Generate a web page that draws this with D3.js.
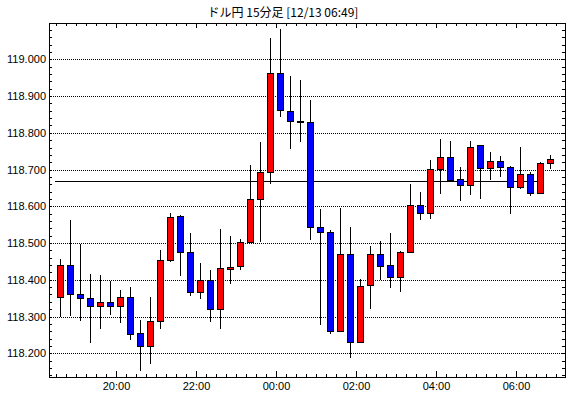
<!DOCTYPE html>
<html>
<head>
<meta charset="utf-8">
<script src="https://cdn.jsdelivr.net/npm/d3@7"></script>
<style>
  body { margin: 0; background: #fff; }
  text { font-family: "Liberation Sans", Arial, sans-serif; font-size: 11px; fill: #000; }
  .title { font-family: "Noto Sans CJK JP", sans-serif; font-size: 12px; }
  .axis line { stroke: #000; shape-rendering: crispEdges; }
  .axis text { font-family: "Liberation Sans", Arial, sans-serif; font-size: 11px; }
</style>
</head>
<body>
<script>
// 15-minute USD/JPY candles, 12/12 18:30 -> 12/13 06:45
var times = [
  "12/12 18:30", "12/12 18:45", "12/12 19:00", "12/12 19:15", "12/12 19:30", "12/12 19:45",
  "12/12 20:00", "12/12 20:15", "12/12 20:30", "12/12 20:45", "12/12 21:00", "12/12 21:15",
  "12/12 21:30", "12/12 21:45", "12/12 22:00", "12/12 22:15", "12/12 22:30", "12/12 22:45",
  "12/12 23:00", "12/12 23:15", "12/12 23:30", "12/12 23:45", "12/13 00:00", "12/13 00:15",
  "12/13 00:30", "12/13 00:45", "12/13 01:00", "12/13 01:15", "12/13 01:30", "12/13 01:45",
  "12/13 02:00", "12/13 02:15", "12/13 02:30", "12/13 02:45", "12/13 03:00", "12/13 03:15",
  "12/13 03:30", "12/13 03:45", "12/13 04:00", "12/13 04:15", "12/13 04:30", "12/13 04:45",
  "12/13 05:00", "12/13 05:15", "12/13 05:30", "12/13 05:45", "12/13 06:00", "12/13 06:15",
  "12/13 06:30", "12/13 06:45"
];

var opens = [
  118.352, 118.439, 118.361, 118.350, 118.330, 118.339, 118.330, 118.352, 118.254, 118.219,
  118.287, 118.453, 118.573, 118.475, 118.366, 118.399, 118.320, 118.429, 118.437, 118.502,
  118.619, 118.693, 118.962, 118.859, 118.831, 118.829, 118.543, 118.529, 118.260, 118.469,
  118.230, 118.385, 118.469, 118.439, 118.407, 118.475, 118.603, 118.581, 118.701, 118.733,
  118.673, 118.657, 118.766, 118.703, 118.722, 118.706, 118.652, 118.687, 118.635, 118.717
];

var highs = [
  118.457, 118.563, 118.497, 118.416, 118.413, 118.398, 118.372, 118.380, 118.291, 118.353,
  118.481, 118.582, 118.576, 118.527, 118.446, 118.427, 118.538, 118.518, 118.510, 118.712,
  118.774, 119.057, 119.082, 118.954, 118.944, 118.889, 118.593, 118.535, 118.595, 118.544,
  118.401, 118.492, 118.506, 118.527, 118.478, 118.660, 118.638, 118.725, 118.783, 118.777,
  118.707, 118.777, 118.766, 118.747, 118.737, 118.709, 118.761, 118.693, 118.720, 118.739
];

var lows = [
  118.298, 118.301, 118.289, 118.229, 118.267, 118.304, 118.283, 118.237, 118.153, 118.172,
  118.265, 118.449, 118.411, 118.357, 118.349, 118.286, 118.265, 118.389, 118.427, 118.502,
  118.502, 118.660, 118.844, 118.757, 118.776, 118.509, 118.276, 118.252, 118.260, 118.186,
  118.230, 118.320, 118.399, 118.379, 118.368, 118.475, 118.564, 118.566, 118.633, 118.672,
  118.615, 118.632, 118.621, 118.671, 118.681, 118.578, 118.646, 118.629, 118.635, 118.701
];

var closes = [
  118.439, 118.361, 118.350, 118.330, 118.339, 118.330, 118.352, 118.253, 118.219, 118.287,
  118.453, 118.570, 118.475, 118.366, 118.399, 118.320, 118.431, 118.434, 118.502, 118.619,
  118.693, 118.962, 118.861, 118.831, 118.830, 118.543, 118.529, 118.260, 118.469, 118.230,
  118.384, 118.469, 118.438, 118.407, 118.475, 118.603, 118.581, 118.701, 118.733, 118.672,
  118.657, 118.761, 118.703, 118.722, 118.706, 118.652, 118.687, 118.635, 118.717, 118.728
];

var yLabels = [118.2, 118.3, 118.4, 118.5, 118.6, 118.7, 118.8, 118.9, 119.0];
var xLabels = ["12/12 20:00", "12/12 22:00", "12/13 00:00", "12/13 02:00", "12/13 04:00", "12/13 06:00"];
var refPrice = 118.670;
var title = "ドル円 15分足 [12/13 06:49]";

(function() {

var parse = d3.timeParse("%m/%d %H:%M");

var data = times.map(function(t, i) {
  return { t: parse(t), o: opens[i], h: highs[i], l: lows[i], c: closes[i] };
});

var plotLeft = 49, plotRight = 565, plotTop = 23, plotBottom = 377;

var svg = d3.select("body").append("svg")
    .attr("width", 570)
    .attr("height", 398);

var t0 = data[0].t, t1 = data[data.length - 1].t;

var x = d3.scaleTime()
    .domain([d3.timeSecond.offset(t0, -630), d3.timeSecond.offset(t1, 1710)])
    .range([plotLeft, plotRight]);

var y = d3.scaleLinear()
    .domain([118.1355, 119.0988])
    .range([plotBottom, plotTop]);

// Grid lines (dotted)
svg.append("g").selectAll("line")
    .data(yLabels)
  .enter().append("line")
    .attr("x1", plotLeft)
    .attr("x2", plotRight)
    .attr("y1", function(d) { return Math.round(y(d)) + 0.5; })
    .attr("y2", function(d) { return Math.round(y(d)) + 0.5; })
    .attr("stroke", "#000")
    .attr("stroke-dasharray", "1,1")
    .attr("shape-rendering", "crispEdges");

// Reference price line
svg.append("line")
    .attr("x1", x(t0) - 1)
    .attr("x2", x(t1) - 2)
    .attr("y1", Math.round(y(refPrice)) + 0.5)
    .attr("y2", Math.round(y(refPrice)) + 0.5)
    .attr("stroke", "#000")
    .attr("shape-rendering", "crispEdges");

// Axes: ticks point inward
var minorX = d3.timeMinute.every(15).range(x.domain()[0], x.domain()[1]);
var majorX = xLabels.map(parse);
var minorY = d3.range(118.14, 119.09, 0.02);

svg.append("g").attr("class", "axis")
    .attr("transform", "translate(0," + plotBottom + ")")
    .call(d3.axisBottom(x).tickValues(minorX).tickSize(-3).tickFormat(""));

svg.append("g").attr("class", "axis")
    .attr("transform", "translate(0," + plotBottom + ")")
    .call(d3.axisBottom(x).tickValues(majorX).tickSize(-6).tickPadding(5)
      .tickFormat(d3.timeFormat("%H:%M")));

svg.append("g").attr("class", "axis")
    .attr("transform", "translate(0," + plotTop + ")")
    .call(d3.axisTop(x).tickValues(minorX).tickSize(-3).tickFormat(""));

svg.append("g").attr("class", "axis")
    .attr("transform", "translate(0," + plotTop + ")")
    .call(d3.axisTop(x).tickValues(majorX).tickSize(-5).tickFormat(""));

svg.append("g").attr("class", "axis")
    .attr("transform", "translate(" + plotLeft + ",0)")
    .call(d3.axisLeft(y).tickValues(minorY).tickSize(-3).tickFormat(""));

svg.append("g").attr("class", "axis")
    .attr("transform", "translate(" + plotLeft + ",0)")
    .call(d3.axisLeft(y).tickValues(yLabels).tickSize(-3).tickPadding(3)
      .tickFormat(d3.format(".3f")));

svg.append("g").attr("class", "axis")
    .attr("transform", "translate(" + plotRight + ",0)")
    .call(d3.axisRight(y).tickValues(minorY).tickSize(-3).tickFormat(""));

svg.selectAll(".axis .domain").remove();

// Candles
var candle = svg.append("g").selectAll("g")
    .data(data)
  .enter().append("g")
    .attr("transform", function(d) { return "translate(" + Math.round(x(d.t) + 4.3) + ",0)"; });

candle.append("line")
    .attr("x1", 0.5)
    .attr("x2", 0.5)
    .attr("y1", function(d) { return y(d.h); })
    .attr("y2", function(d) { return y(d.l); })
    .attr("stroke", "#000")
    .attr("shape-rendering", "crispEdges");

candle.append("rect")
    .attr("x", -2.5)
    .attr("width", 6)
    .attr("y", function(d) { return Math.round(y(Math.max(d.o, d.c))) + 0.5; })
    .attr("height", function(d) {
      return Math.max(1, Math.round(y(Math.min(d.o, d.c))) - Math.round(y(Math.max(d.o, d.c))));
    })
    .attr("fill", function(d) { return d.c > d.o ? "#ff0000" : "#0000ff"; })
    .attr("stroke", "#000")
    .attr("shape-rendering", "crispEdges");

// Frame
svg.append("rect")
    .attr("x", plotLeft + 0.5)
    .attr("y", plotTop + 0.5)
    .attr("width", plotRight - plotLeft)
    .attr("height", plotBottom - plotTop)
    .attr("fill", "none")
    .attr("stroke", "#000")
    .attr("shape-rendering", "crispEdges");

svg.append("text")
    .attr("class", "title")
    .attr("x", 283)
    .attr("y", 17)
    .attr("text-anchor", "middle")
    .text(title);

})();
</script>
</body>
</html>
